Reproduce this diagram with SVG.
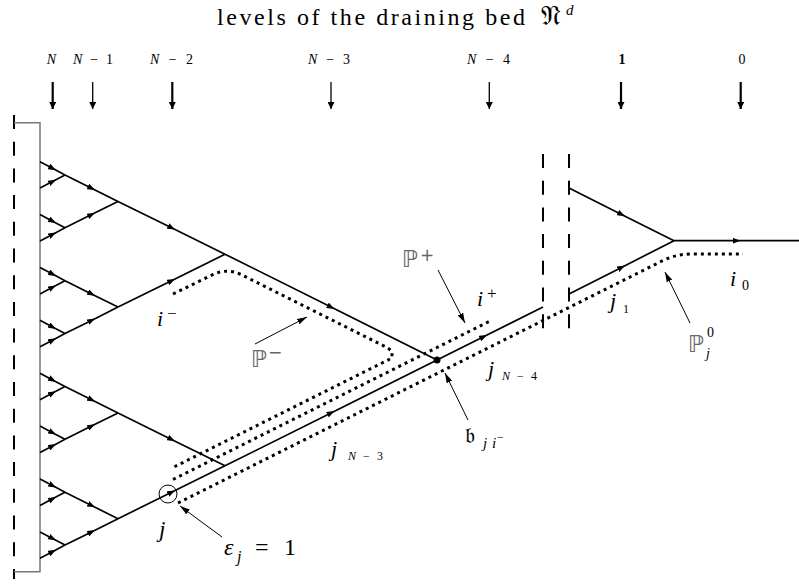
<svg xmlns="http://www.w3.org/2000/svg" width="799" height="584" viewBox="0 0 799 584">
<defs>
<marker id="ea" viewBox="0 0 8 6" refX="4" refY="3" markerWidth="8" markerHeight="6" markerUnits="userSpaceOnUse" orient="auto"><path d="M0,0 L8,3 L0,6 z" fill="#000"/></marker>
<marker id="la" viewBox="0 0 8 8" refX="8" refY="4" markerWidth="8" markerHeight="7" markerUnits="userSpaceOnUse" orient="auto"><path d="M0,0 L8,4 L0,8 z" fill="#000"/></marker>
<marker id="pa" viewBox="0 0 10 6" refX="10" refY="3" markerWidth="10" markerHeight="6" markerUnits="userSpaceOnUse" orient="auto"><path d="M0,0 L10,3 L0,6 z" fill="#000"/></marker>
</defs>
<style>
.e { fill:none; stroke:#000; stroke-width:1.7; marker-mid:url(#ea); }
.dot { fill:none; stroke:#000; stroke-width:3; stroke-dasharray:3 4; }
.lvk { stroke:#000; stroke-width:2.2; marker-end:url(#la); }
.lvt { stroke:#000; stroke-width:1.3; marker-end:url(#la); }
.ptr { stroke:#000; stroke-width:1; fill:none; marker-end:url(#pa); }
.dash { stroke:#000; stroke-width:2; stroke-dasharray:14 12.7; fill:none; }
.rm { font-family:"Liberation Serif",serif; fill:#000; }
.it { font-family:"Liberation Serif",serif; font-style:italic; fill:#000; }
.bb { font-family:"DejaVu Sans",sans-serif; fill:#666; }
.fr { font-family:"DejaVu Sans","DejaVu Serif","Noto Sans",serif; fill:#000; }
</style>

<g id="title">
<text class="rm" x="217" y="25" font-size="24" textLength="308" lengthAdjust="spacing">levels of the draining bed</text>
<text class="fr" x="541" y="25" font-size="28">𝔑</text>
<text class="it" x="566" y="15" font-size="15">d</text>
</g>

<g id="levels">
<text class="it" x="51.5" y="64" font-size="14" text-anchor="middle">N</text>
<text class="rm" x="73" y="64" font-size="14" textLength="40" lengthAdjust="spacing"><tspan font-style="italic">N</tspan>−1</text>
<text class="rm" x="150" y="64" font-size="14" textLength="43" lengthAdjust="spacing"><tspan font-style="italic">N</tspan>−2</text>
<text class="rm" x="308" y="64" font-size="14" textLength="42" lengthAdjust="spacing"><tspan font-style="italic">N</tspan>−3</text>
<text class="rm" x="467" y="64" font-size="14" textLength="43" lengthAdjust="spacing"><tspan font-style="italic">N</tspan>−4</text>
<text class="rm" x="622" y="64" font-size="14" text-anchor="middle" font-weight="bold">1</text>
<text class="rm" x="742" y="64" font-size="14" text-anchor="middle">0</text>
<line class="lvk" x1="52.7" y1="82" x2="52.7" y2="109"/>
<line class="lvt" x1="92.7" y1="82" x2="92.7" y2="109"/>
<line class="lvk" x1="172.3" y1="82" x2="172.3" y2="109"/>
<line class="lvt" x1="331" y1="82" x2="331" y2="109"/>
<line class="lvt" x1="489.3" y1="82" x2="489.3" y2="109"/>
<line class="lvk" x1="621" y1="82" x2="621" y2="109"/>
<line class="lvk" x1="740.7" y1="82" x2="740.7" y2="109"/>
</g>

<g id="bed">
<line class="dash" x1="14" y1="115" x2="14" y2="579" stroke-dasharray="13.3 13.4"/>
<polyline points="14,122.7 40,122.7 40,571.7 14,571.7" fill="none" stroke="#777" stroke-width="1.5"/>
</g>

<g id="breaks">
<line class="dash" x1="543" y1="154" x2="543" y2="336"/>
<line class="dash" x1="569" y1="154" x2="569" y2="336"/>
</g>

<g id="connectors">
<path class="e" d="M40,161.7 L52.5,168.3 L65,174.9"/>
<path class="e" d="M40,188.1 L52.5,181.5 L65,174.9"/>
<path class="e" d="M40,214.6 L52.5,221.2 L65,227.8"/>
<path class="e" d="M40,241.0 L52.5,234.4 L65,227.8"/>
<path class="e" d="M40,267.5 L52.5,274.1 L65,280.7"/>
<path class="e" d="M40,293.9 L52.5,287.3 L65,280.7"/>
<path class="e" d="M40,320.3 L52.5,327.0 L65,333.6"/>
<path class="e" d="M40,346.8 L52.5,340.2 L65,333.6"/>
<path class="e" d="M40,373.2 L52.5,379.9 L65,386.5"/>
<path class="e" d="M40,399.7 L52.5,393.1 L65,386.5"/>
<path class="e" d="M40,426.1 L52.5,432.7 L65,439.3"/>
<path class="e" d="M40,452.5 L52.5,445.9 L65,439.3"/>
<path class="e" d="M40,479.0 L52.5,485.6 L65,492.2"/>
<path class="e" d="M40,505.4 L52.5,498.8 L65,492.2"/>
<path class="e" d="M40,531.9 L52.5,538.5 L65,545.1"/>
<path class="e" d="M40,558.3 L52.5,551.7 L65,545.1"/>

<path class="e" d="M65,174.9 L91.5,188.2 L118,201.4"/>
<path class="e" d="M65,227.8 L91.5,214.6 L118,201.4"/>
<path class="e" d="M65,280.7 L91.5,293.9 L118,307.1"/>
<path class="e" d="M65,333.6 L91.5,320.4 L118,307.1"/>
<path class="e" d="M65,386.5 L91.5,399.7 L118,412.9"/>
<path class="e" d="M65,439.3 L91.5,426.1 L118,412.9"/>
<path class="e" d="M65,492.2 L91.5,505.5 L118,518.7"/>
<path class="e" d="M65,545.1 L91.5,531.9 L118,518.7"/>

<path class="e" d="M118,201.4 L171.5,227.8 L225,254.2"/>
<path class="e" d="M118,307.1 L171.5,280.7 L225,254.2"/>
<path class="e" d="M118,412.9 L171.5,439.4 L225,465.8"/>
<path class="e" d="M118,518.7 L171.5,492.3 L225,465.8"/>

<path class="e" d="M225,254.2 L331,307.1 L437,360"/>
<path class="e" d="M225,465.8 L331,412.9 L437,360"/>
<path class="e" d="M437,360 L483.5,336.8 L543,307"/>

<path class="e" d="M569,188 L621.5,214.4 L674,240.7"/>
<path class="e" d="M569,294 L621.5,267.4 L674,240.7"/>
<path class="e" d="M674,240.7 L736.5,240.7 L799,240.7"/>
</g>

<g id="node-j">
<circle cx="168" cy="494" r="9" fill="none" stroke="#000" stroke-width="1"/>
</g>
<g id="node-b">
<circle cx="437" cy="360" r="3.5" fill="#000"/>
</g>

<g id="dotted-paths">
<path class="dot" d="M173,294 L212,275 Q226,268 240,274 L386,347 L392,351 L392,358 L173,467.5"/>
<path class="dot" d="M173,479.5 L492,320"/>
<path class="dot" d="M178,503 L662,261 Q676,254 692,254 L743,254"/>
</g>

<g id="pointers">
<path class="ptr" d="M438,270 L465,323"/>
<path class="ptr" d="M255,344 L307,317"/>
<path class="ptr" d="M222,537 L180,506"/>
<path class="ptr" d="M468,420 L445,373"/>
<path class="ptr" d="M690,323 L665,272"/>
</g>

<g id="labels">
<text class="bb" x="402" y="267" font-size="23">ℙ</text>
<text class="bb" x="420" y="261" font-size="17">+</text>
<text class="bb" x="251" y="367" font-size="23">ℙ</text>
<text class="bb" x="268" y="358" font-size="17">−</text>
<text class="bb" x="688" y="352" font-size="23">ℙ</text>
<text class="rm" x="707" y="337" font-size="14">0</text>
<text class="it" x="706" y="358" font-size="14">j</text>

<text class="it" x="157" y="326" font-size="22">i</text>
<text class="rm" x="167" y="319" font-size="17">−</text>
<text class="it" x="477" y="306" font-size="22">i</text>
<text class="rm" x="487" y="299" font-size="17">+</text>

<text class="it" x="159" y="537" font-size="23">j</text>
<text class="it" x="224" y="555" font-size="24">ε</text>
<text class="it" x="237" y="562" font-size="16">j</text>
<text class="rm" x="255" y="555" font-size="24">=</text>
<text class="rm" x="284" y="555" font-size="24">1</text>

<text class="fr" x="465" y="443" font-size="22">𝔟</text>
<text class="it" x="483" y="448" font-size="15">j</text>
<text class="it" x="492" y="448" font-size="15">i</text>
<text class="rm" x="497" y="441" font-size="12">−</text>

<text class="it" x="488" y="376" font-size="22">j</text>
<text class="rm" x="502" y="380" font-size="12" textLength="35" lengthAdjust="spacing"><tspan font-style="italic">N</tspan>−4</text>
<text class="it" x="331" y="456" font-size="22">j</text>
<text class="rm" x="348" y="460" font-size="12" textLength="35" lengthAdjust="spacing"><tspan font-style="italic">N</tspan>−3</text>
<text class="it" x="610" y="308" font-size="22">j</text>
<text class="rm" x="623" y="313" font-size="12">1</text>
<text class="it" x="730" y="286" font-size="22">i</text>
<text class="rm" x="742" y="290" font-size="14">0</text>
</g>
</svg>
